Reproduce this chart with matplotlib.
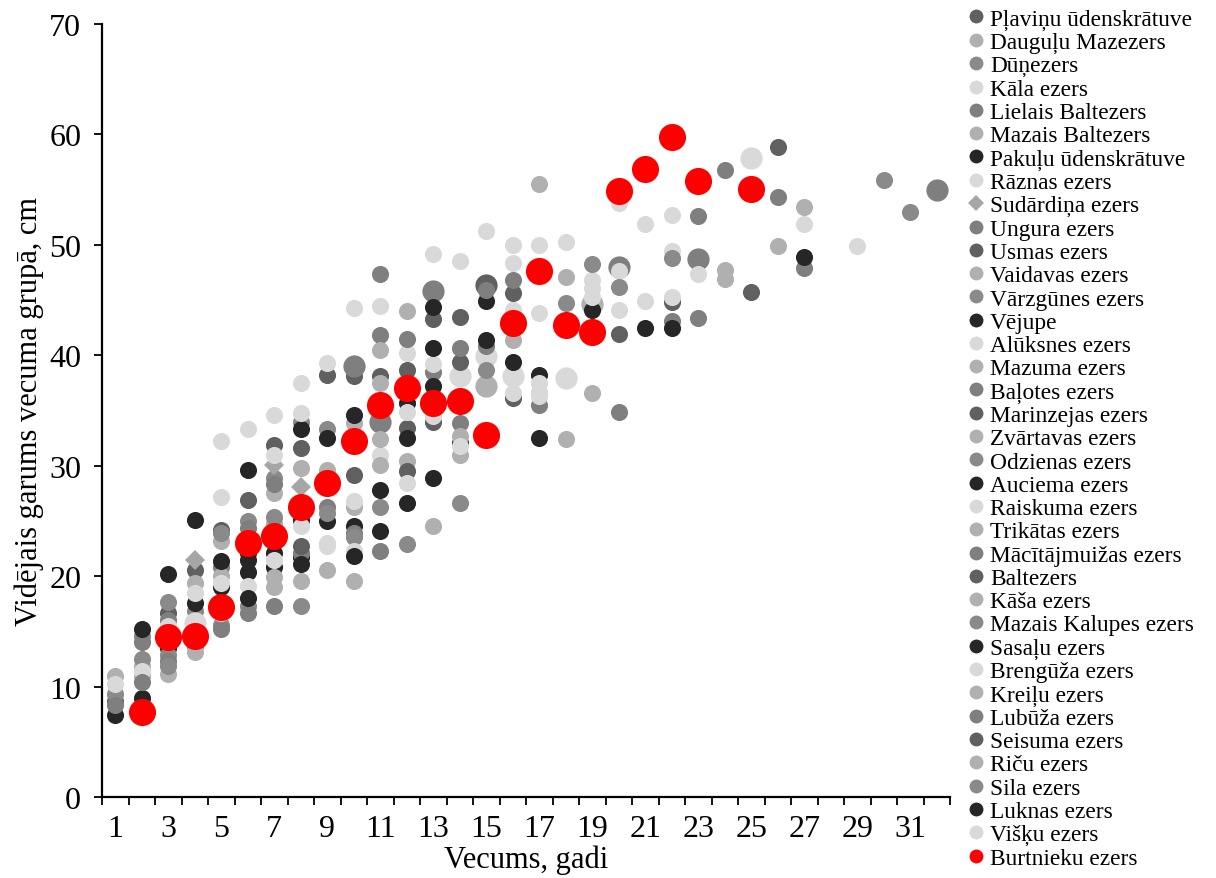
import matplotlib
matplotlib.use("Agg")
import matplotlib.pyplot as plt
from matplotlib.lines import Line2D

plt.rcParams["font.family"] = ["Liberation Serif", "DejaVu Serif"]

# --- data (age group, mean length cm) ---
plavinu_x = [1, 3, 4, 5, 6, 7, 8, 9, 10, 11, 12, 13, 14, 16, 20, 22, 26]
plavinu_y = [8.7, 16.7, 20.6, 24.2, 26.9, 31.9, 31.6, 38.2, 38.1, 38.1, 38.7, 43.3, 43.5, 45.6, 41.9, 44.8, 58.9]
daugulu_x = [1, 2, 3, 4, 5, 7, 8, 9, 10]
daugulu_y = [11.0, 11.9, 15.0, 19.4, 23.2, 27.5, 29.8, 29.6, 33.9]
dunezers_x = [1, 2, 3, 4, 5, 6, 7, 8, 9]
dunezers_y = [9.3, 14.6, 17.7, 16.8, 23.9, 25.0, 28.9, 34.0, 33.3]
kala_x = [5, 6, 7, 8, 9, 10, 11, 13, 14, 15, 16, 17, 18, 20, 21, 22]
kala_y = [32.2, 33.3, 34.6, 37.5, 39.3, 44.3, 44.5, 49.2, 48.5, 51.3, 50.0, 50.0, 50.3, 53.8, 51.9, 52.7]
lielais_x = [10, 11, 13, 20, 23, 32]
lielais_y = [39.0, 34.0, 45.8, 48.0, 48.7, 55.0]
mazais_balt_x = [15, 19]
mazais_balt_y = [37.2, 44.6]
pakulu_x = [1, 2, 3, 4, 5, 6, 7, 8, 9, 10, 11, 12, 13, 14]
pakulu_y = [7.4, 9.0, 13.5, 17.6, 19.0, 20.4, 20.8, 21.7, 25.0, 24.5, 24.1, 26.6, 28.9, 32.1]
raznas_x = [4, 14, 15, 16, 18, 25]
raznas_y = [15.8, 38.1, 39.9, 38.1, 37.9, 57.9]
sudardina_x = [4, 7, 8]
sudardina_y = [21.5, 30.1, 28.1]
ungura_x = [1, 2, 3, 4, 5, 6, 7, 8, 9, 10, 11, 13, 14, 15, 17, 20, 22, 23, 27]
ungura_y = [8.3, 14.0, 16.0, 13.7, 20.8, 24.4, 28.3, 22.1, 26.3, 23.9, 41.8, 38.5, 33.9, 40.8, 35.5, 34.9, 43.1, 43.4, 47.9]
usmas_x = [15]
usmas_y = [46.4]
vaidavas_x = [2, 3, 4, 5, 7, 8, 9, 10, 11, 12, 14, 18, 19, 24]
vaidavas_y = [11.0, 11.1, 13.1, 20.0, 24.8, 19.6, 20.6, 26.3, 37.5, 30.4, 32.7, 32.4, 36.6, 46.9]
varzgunes_x = [2, 3, 5, 6, 7, 8, 9, 10, 11, 12, 14, 15]
varzgunes_y = [12.5, 12.9, 15.6, 17.3, 25.4, 17.3, 25.7, 23.5, 26.3, 22.9, 26.6, 38.7]
vejupe_x = [2, 3, 4, 6, 8, 10, 12, 13, 15, 16, 17, 19, 21, 22, 27]
vejupe_y = [15.2, 20.2, 25.1, 29.6, 33.3, 34.6, 35.7, 37.2, 41.4, 39.4, 38.2, 44.1, 42.5, 42.5, 48.9]
aluksnes_x = [1, 2, 3, 4, 5, 7, 8, 11, 12, 13, 16, 17, 19, 20, 22, 27, 29]
aluksnes_y = [10.2, 11.4, 15.5, 18.5, 27.2, 31.0, 34.8, 31.0, 40.2, 39.2, 48.4, 43.8, 46.8, 47.6, 49.4, 51.9, 49.9]
mazuma_x = [7, 10, 11, 13, 14]
mazuma_y = [19.9, 19.6, 32.4, 24.5, 31.0]
balotes_x = [2, 3, 5, 6, 7, 11]
balotes_y = [10.4, 12.3, 15.2, 16.7, 17.3, 22.3]
marinzejas_x = [8, 10, 12, 13, 14]
marinzejas_y = [22.7, 29.2, 33.4, 34.0, 39.4]
zvartavas_x = [7, 11]
zvartavas_y = [19.0, 30.1]
odzienas_x = [3]
odzienas_y = [11.9]
auciema_x = [3, 5, 6, 7, 8, 9, 11, 12, 13, 15, 17]
auciema_y = [14.0, 21.4, 22.1, 22.1, 25.1, 32.5, 27.8, 32.5, 40.7, 44.9, 32.5]
raiskuma_x = [5, 6, 7, 8, 9, 10, 12, 13, 14, 16, 17, 19, 20, 21, 22, 23]
raiskuma_y = [19.4, 19.1, 21.5, 24.5, 23.0, 26.8, 34.9, 34.5, 31.8, 44.1, 37.5, 46.1, 44.1, 44.9, 45.3, 47.4]
trikatas_x = [24, 26, 27]
trikatas_y = [47.7, 49.9, 53.4]
macitajm_x = [11, 12, 14, 15, 16]
macitajm_y = [47.4, 41.5, 40.7, 45.9, 46.8]
baltezers_x = [12, 16]
baltezers_y = [29.5, 36.1]
kasa_x = [16, 18]
kasa_y = [41.4, 47.1]
kalupes_x = [18, 19, 20, 22]
kalupes_y = [44.7, 48.3, 46.2, 48.8]
sasalu_x = [6, 13]
sasalu_y = [21.5, 44.4]
brenguza_x = [5, 9, 10, 12, 16, 17, 19]
brenguza_y = [16.7, 22.7, 22.3, 28.4, 36.6, 36.7, 45.3]
kreilu_x = [17]
kreilu_y = [55.5]
lubuza_x = [23, 24, 26]
lubuza_y = [52.6, 56.8, 54.3]
seisuma_x = [25]
seisuma_y = [45.7]
ricu_x = [11, 12]
ricu_y = [40.5, 44.0]
sila_x = [30, 31]
sila_y = [55.9, 53.0]
luknas_x = [6, 8, 10]
luknas_y = [18.0, 21.1, 21.8]
visku_x = [17]
visku_y = [36.3]
burtnieku_x = [2, 3, 4, 5, 6, 7, 8, 9, 10, 11, 12, 13, 14, 15, 16, 17, 18, 19, 20, 21, 22, 23, 25]
burtnieku_y = [7.7, 14.5, 14.6, 17.2, 23.0, 23.6, 26.3, 28.4, 32.2, 35.5, 37.0, 35.7, 35.9, 32.8,
               42.9, 47.6, 42.7, 42.1, 54.9, 56.9, 59.8, 55.8, 55.1]

xticks = list(range(1, 32, 2))

D, L, M, M2, V, K = "#606060", "#b0b0b0", "#8a8a8a", "#7f7f7f", "#d9d9d9", "#262626"
S, B = 12.3, 16  # normal / big marker size (pt)

lakes = [
    ("Pļaviņu ūdenskrātuve", plavinu_x, plavinu_y, D, "o", S),
    ("Dauguļu Mazezers", daugulu_x, daugulu_y, L, "o", S),
    ("Dūņezers", dunezers_x, dunezers_y, M, "o", S),
    ("Kāla ezers", kala_x, kala_y, V, "o", S),
    ("Lielais Baltezers", lielais_x, lielais_y, M2, "o", B),
    ("Mazais Baltezers", mazais_balt_x, mazais_balt_y, L, "o", B),
    ("Pakuļu ūdenskrātuve", pakulu_x, pakulu_y, K, "o", S),
    ("Rāznas ezers", raznas_x, raznas_y, V, "o", B),
    ("Sudārdiņa ezers", sudardina_x, sudardina_y, "#a6a6a6", "D", 10),
    ("Ungura ezers", ungura_x, ungura_y, M2, "o", S),
    ("Usmas ezers", usmas_x, usmas_y, D, "o", B),
    ("Vaidavas ezers", vaidavas_x, vaidavas_y, L, "o", S),
    ("Vārzgūnes ezers", varzgunes_x, varzgunes_y, M, "o", S),
    ("Vējupe", vejupe_x, vejupe_y, K, "o", S),
    ("Alūksnes ezers", aluksnes_x, aluksnes_y, V, "o", S),
    ("Mazuma ezers", mazuma_x, mazuma_y, L, "o", S),
    ("Baļotes ezers", balotes_x, balotes_y, M2, "o", S),
    ("Marinzejas ezers", marinzejas_x, marinzejas_y, D, "o", S),
    ("Zvārtavas ezers", zvartavas_x, zvartavas_y, L, "o", S),
    ("Odzienas ezers", odzienas_x, odzienas_y, M, "o", S),
    ("Auciema ezers", auciema_x, auciema_y, K, "o", S),
    ("Raiskuma ezers", raiskuma_x, raiskuma_y, V, "o", S),
    ("Trikātas ezers", trikatas_x, trikatas_y, L, "o", S),
    ("Mācītājmuižas ezers", macitajm_x, macitajm_y, M2, "o", S),
    ("Baltezers", baltezers_x, baltezers_y, D, "o", S),
    ("Kāša ezers", kasa_x, kasa_y, L, "o", S),
    ("Mazais Kalupes ezers", kalupes_x, kalupes_y, M, "o", S),
    ("Sasaļu ezers", sasalu_x, sasalu_y, K, "o", S),
    ("Brengūža ezers", brenguza_x, brenguza_y, V, "o", S),
    ("Kreiļu ezers", kreilu_x, kreilu_y, L, "o", S),
    ("Lubūža ezers", lubuza_x, lubuza_y, M2, "o", S),
    ("Seisuma ezers", seisuma_x, seisuma_y, D, "o", S),
    ("Riču ezers", ricu_x, ricu_y, L, "o", S),
    ("Sila ezers", sila_x, sila_y, M, "o", S),
    ("Luknas ezers", luknas_x, luknas_y, K, "o", S),
    ("Višķu ezers", visku_x, visku_y, V, "o", S),
    ("Burtnieku ezers", burtnieku_x, burtnieku_y, "#ff0000", "o", 19.5),
]

fig = plt.figure(figsize=(12.16, 8.79), dpi=100)
ax = fig.add_axes([102 / 1216, 1 - 798 / 879, 848 / 1216, 773 / 879])

handles = []
for name, xs, ys, col, mk, ms in lakes:
    ax.plot(xs, ys, ls="none", marker=mk, ms=ms, color=col, mew=0)
    hs = 8 if mk == "D" else 10
    handles.append(Line2D([], [], ls="none", marker=mk, ms=hs, color=col, mew=0, label=name))

ax.set_xlim(0.5, 32.5)
ax.set_ylim(0, 70)
ax.set_xticks([x + 0.5 for x in range(0, 33)])
ax.set_xticklabels([])
ax.set_xticks(xticks, minor=True)
ax.set_xticklabels([str(t) for t in xticks], minor=True)
ax.tick_params(axis="x", which="major", direction="out", length=6, width=1.3)
ax.tick_params(axis="x", which="minor", length=0, labelsize=23, pad=12)
ax.set_yticks(range(0, 71, 10))
ax.tick_params(axis="y", direction="out", length=6, width=1.3, labelsize=23, pad=9)
for side in ("top", "right"):
    ax.spines[side].set_visible(False)
for side in ("left", "bottom"):
    ax.spines[side].set_linewidth(1.6)

ax.set_xlabel("Vecums, gadi", fontsize=22, labelpad=1)
ax.set_ylabel("Vidējais garums vecuma grupā, cm", fontsize=22, labelpad=4)

fig.legend(handles=handles, loc="upper left", bbox_to_anchor=(968 / 1216, 1 - 9 / 879),
           frameon=False, fontsize=16.8, handlelength=0.7, handletextpad=0.25,
           labelspacing=0.083, borderpad=0, borderaxespad=0)

fig.savefig("out.png", dpi=100)
